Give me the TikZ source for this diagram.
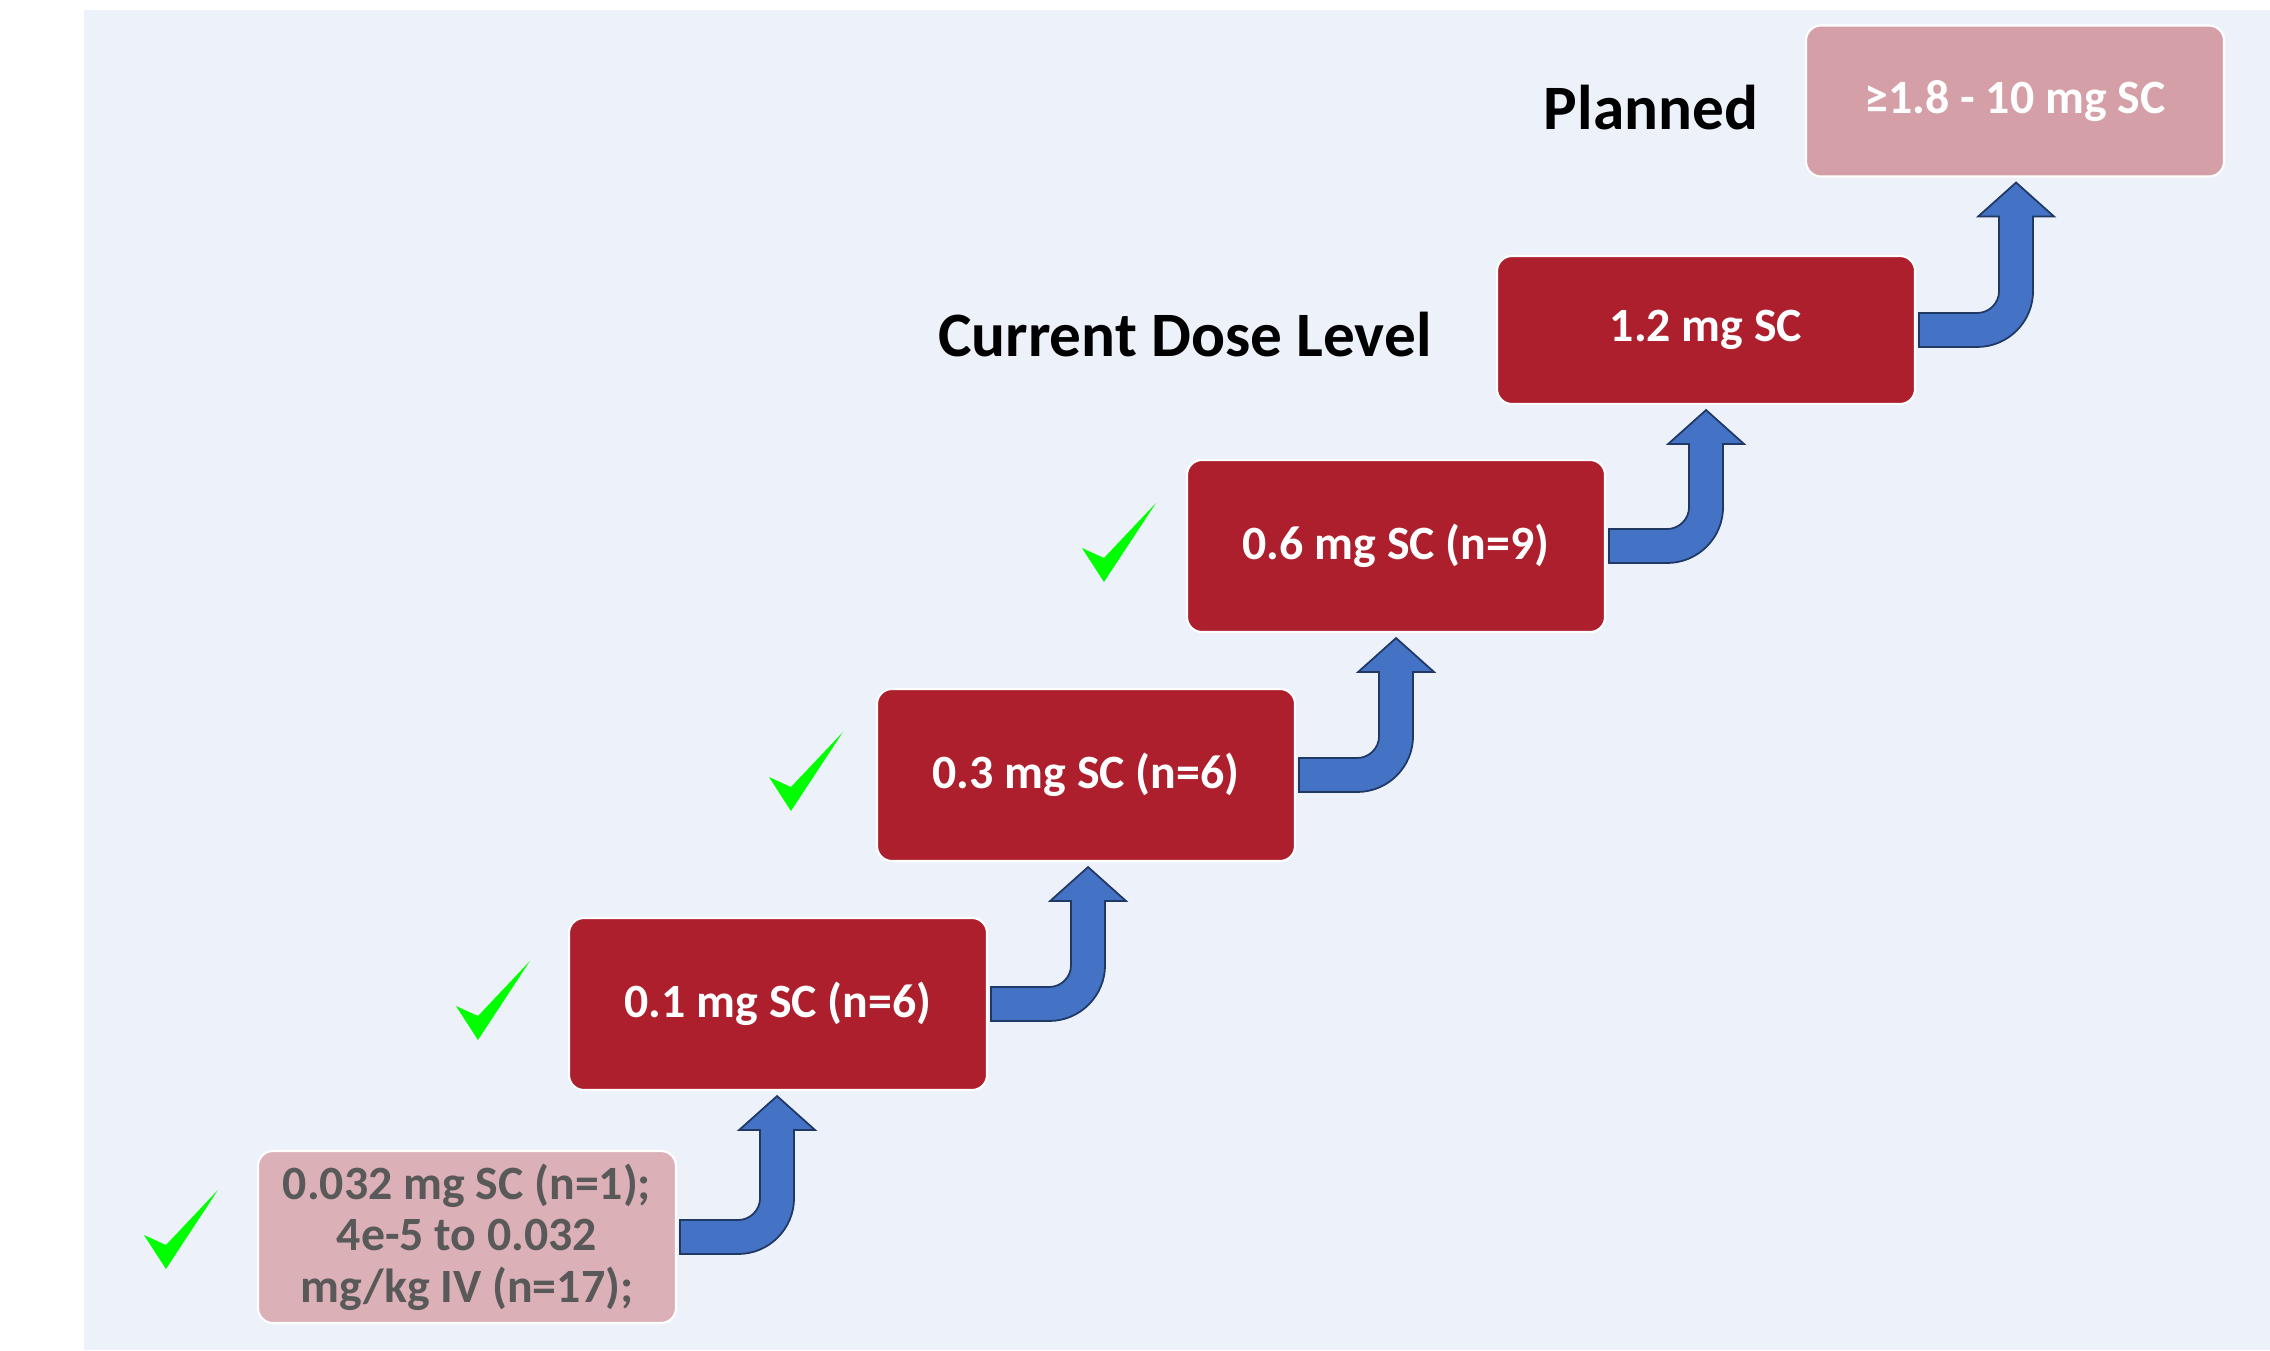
\documentclass[tikz,border=0pt]{standalone}
\usepackage{fontspec}
\setmainfont{Carlito}
\usepackage{tikz}
\usetikzlibrary{calc}

\definecolor{bgblue}{RGB}{237,241,249}
\definecolor{doseRed}{RGB}{174,31,46}
\definecolor{donePink}{RGB}{219,176,183}
\definecolor{planPink}{RGB}{213,159,168}
\definecolor{greyText}{RGB}{89,89,89}
\definecolor{arrowBlue}{RGB}{68,114,196}
\definecolor{arrowLine}{RGB}{31,56,100}
\definecolor{tickGreen}{RGB}{0,255,0}

\tikzset{
  dosebox/.style={draw=white, line width=0.6pt, rounded corners=0.15cm,
    minimum width=4.18cm, minimum height=1.72cm, align=center,
    font=\fontsize{13.6pt}{14.6pt}\selectfont\bfseries},
  arrowbody/.style={fill=arrowBlue, draw=arrowLine, line width=0.5pt, line join=miter},
  lbl/.style={font=\fontsize{18pt}{21pt}\selectfont\bfseries, text=black},
  checkmark/.pic={
    \fill[tickGreen] (-1.04,-0.02) -- (-0.82,-0.36) -- (-0.30,0.43) -- (-0.82,-0.12) -- cycle;
  }
}

% bent-up arrow from the right side of #1 to the bottom of #2
\newcommand{\bendup}[2]{%
  \filldraw[arrowbody] let \p1=(#1.east), \p2=(#2.south) in
    (\x1+0.03cm,\y1-0.17cm) -- (\x1+0.61cm,\y1-0.17cm)
    arc[start angle=-90,end angle=0,radius=0.56cm]
    -- (\x1+1.17cm,\y2-0.39cm) -- (\x1+1.38cm,\y2-0.39cm)
    -- (\x1+1cm,\y2-0.05cm) -- (\x1+0.62cm,\y2-0.39cm)
    -- (\x1+0.83cm,\y2-0.39cm) -- (\x1+0.83cm,\y1+0.39cm)
    arc[start angle=0,end angle=-90,radius=0.22cm]
    -- (\x1+0.03cm,\y1+0.17cm) -- cycle;}

\begin{document}
\begin{tikzpicture}

            \useasboundingbox (0,0) rectangle (22.7,13.5);
            \fill[bgblue] (0.84,0) rectangle (22.7,13.4);

            % dose steps
            \node[dosebox, fill=donePink, text=greyText] (d00) at (4.67,1.13)
              {0.032 mg SC (n=1);\\4e-5 to 0.032\\mg/kg IV (n=17);};
            \node[dosebox, fill=doseRed, text=white] (d01) at (7.78,3.46) {0.1 mg SC (n=6)};
            \node[dosebox, fill=doseRed, text=white] (d03) at (10.86,5.75) {0.3 mg SC (n=6)};
            \node[dosebox, fill=doseRed, text=white] (d06) at (13.96,8.04) {0.6 mg SC (n=9)};
            \node[dosebox, fill=doseRed, text=white, minimum height=1.48cm] (d12) at (17.06,10.20) {1.2 mg SC};
            \node[dosebox, fill=planPink, text=white, minimum height=1.51cm] (dplan) at (20.15,12.49) {≥1.8 - 10 mg SC};

            \node[lbl, anchor=base] (curlbl) at (11.85,9.93) {Current Dose Level};
            \node[lbl, anchor=base] (planlbl) at (16.51,12.20) {Planned};

            \bendup{d00}{d01}
            \bendup{d01}{d03}
            \bendup{d03}{d06}
            \bendup{d06}{d12}
            \bendup{d12}{dplan}

            \pic at ([xshift=-0.09cm,yshift=0.04cm]d00.west) {checkmark};
            \pic at ([xshift=-0.08cm]d01.west) {checkmark};
            \pic at ([xshift=-0.03cm]d03.west) {checkmark};
            \pic at (d06.west) {checkmark};

\end{tikzpicture}
\end{document}
